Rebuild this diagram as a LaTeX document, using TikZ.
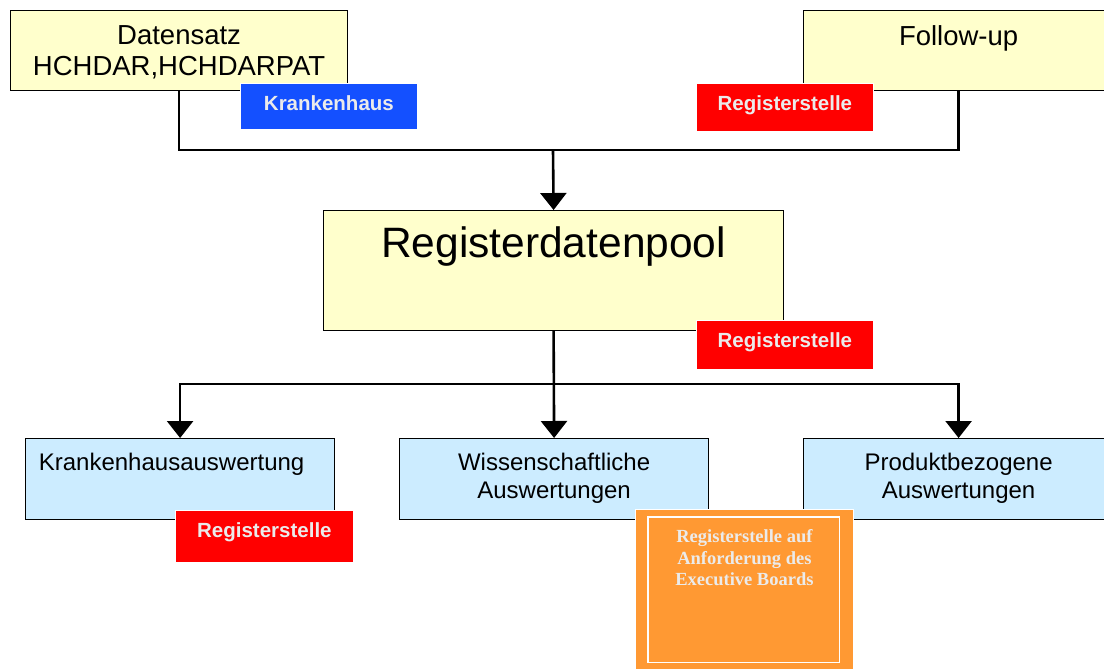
\documentclass[tikz,border=0pt]{standalone}
\usepackage{fontspec}
\setmainfont{Liberation Sans}
\newfontfamily\tnr{Liberation Serif}
\usetikzlibrary{arrows.meta}
\definecolor{paleyellow}{HTML}{FFFFCC}
\definecolor{paleblue}{HTML}{CCECFF}
\definecolor{tagblue}{HTML}{1450FF}
\definecolor{tagred}{HTML}{FF0000}
\definecolor{tagorange}{HTML}{FF9933}
\definecolor{tagtext}{HTML}{EBEBEB}
\newcommand{\boxtxt}[4]{\parbox[c][#2][t]{#1}{\centering\vspace*{#3}#4\par}}
\tikzset{
  ybox/.style={draw=black, line width=1.2pt, fill=paleyellow, inner sep=0pt, anchor=north west},
  bbox/.style={draw=black, line width=1.2pt, fill=paleblue, inner sep=0pt, anchor=north west,
               font={\fontsize{24}{27.6}\selectfont}},
  topfont/.style={font={\fontsize{27.5}{31}\selectfont}},
  tag/.style={draw=white, line width=0.8pt, text=tagtext, inner sep=0pt, anchor=north west,
              font={\fontsize{20.5}{24}\selectfont\bfseries}, text height=27pt},
  conn/.style={line width=2.6pt, line join=miter},
  arr/.style={conn, -{Triangle[width=26pt,length=17pt]}}
}
\begin{document}
\begin{tikzpicture}[x=1pt, y=-1pt]
\path[use as bounding box, clip] (0,0) rectangle (1104,669);
\fill[white] (0,0) rectangle (1104,669);

% top boxes
\node[ybox, topfont] (ds) at (10,10) {\boxtxt{337pt}{80pt}{15pt}{Datensatz\\HCHDAR,HCHDARPAT}};
\node[ybox, topfont] (fu) at (803,10) {\boxtxt{310pt}{80pt}{15pt}{Follow-up}};

% pool
\node[ybox, font={\fontsize{42.5}{48}\selectfont}] (pool) at (323,210) {\boxtxt{460pt}{120pt}{16.5pt}{Registerdatenpool}};

% children
\node[bbox] (kh) at (25,438) {\boxtxt{309pt}{81pt}{15pt}{Krankenhausauswertung\hspace*{17pt}}};
\node[bbox] (ws) at (399,438) {\boxtxt{309pt}{81pt}{15pt}{Wissenschaftliche\\Auswertungen}};
\node[bbox] (pb) at (803,438) {\boxtxt{310pt}{81pt}{15pt}{Produktbezogene\\Auswertungen}};

% connectors
\coordinate (j1) at (553,150);
\coordinate (j2) at (553,384);
\draw[conn] (ds.south) |- (j1) -| (fu.south);
\draw[arr] (j1) -- (pool.north);
\draw[arr] (pool.south) -- (ws.north);
\draw[arr] (j2) -| (kh.north);
\draw[arr] (j2) -| (pb.north);

% tags
\node[tag, fill=tagblue, minimum width=177pt, minimum height=46pt, text depth=19pt] (tk) at (240,83) {Krankenhaus};
\node[tag, fill=tagred, minimum width=177pt, minimum height=48pt, text depth=21pt] (tr1) at (696,83) {Registerstelle};
\node[tag, fill=tagred, minimum width=177pt, minimum height=49pt, text depth=22pt] (tr2) at (696,320) {Registerstelle};
\node[tag, fill=tagred, minimum width=178pt, minimum height=52pt, text depth=25pt] (tr3) at (175,510) {Registerstelle};

% orange tag
\node[draw=white, line width=0.8pt, fill=tagorange, text=tagtext, inner sep=0pt, anchor=north west,
      font={\tnr\bfseries\fontsize{18.5}{21.2}\selectfont}] (or) at (635,509)
  {\boxtxt{218pt}{161pt}{20.5pt}{Registerstelle auf\\Anforderung des\\Executive Boards}};
\draw[white, line width=1.3pt] ([shift={(13,8)}]or.north west) rectangle ([shift={(-14,-8)}]or.south east);
\end{tikzpicture}
\end{document}
